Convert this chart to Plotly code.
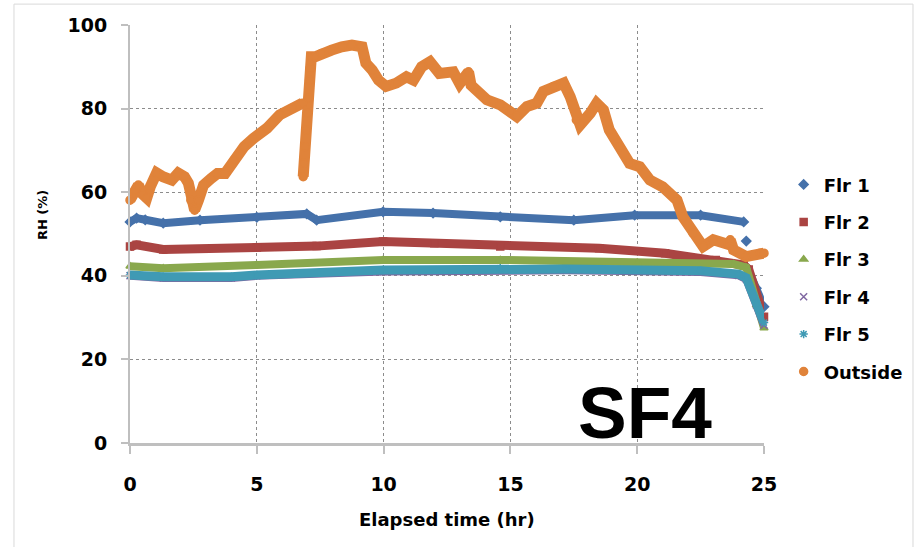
import plotly.graph_objects as go

# ---- data: relative humidity (%) versus elapsed time (hr) ----
t_flr1 = [0.0, 0.26, 0.6, 1.31, 2.76, 5.0, 6.97, 7.36, 9.98, 11.95, 14.6, 17.5, 19.9, 22.5, 24.2, None, 24.3, None, 24.35, 24.7, 25.0]
rh_flr1 = [52.9, 53.8, 53.4, 52.6, 53.3, 54.0, 54.8, 53.3, 55.3, 55.0, 54.1, 53.3, 54.5, 54.5, 52.9, None, 48.3, None, 41.8, 37.0, 32.6]

t_flr2 = [0.0, 0.26, 1.31, 5.0, 7.36, 9.98, 12.0, 14.6, 18.5, 21.1, 23.1, 24.2, 24.4, 24.7, 25.0]
rh_flr2 = [47.0, 47.4, 46.3, 46.8, 47.1, 48.2, 47.8, 47.0, 46.6, 45.4, 43.8, 42.6, 41.5, 35.0, 30.2]

t_flr3 = [0.0, 1.31, 5.0, 9.98, 14.6, 20.0, 23.8, 24.3, 24.7, 25.0]
rh_flr3 = [42.3, 41.8, 42.6, 43.8, 43.8, 43.2, 42.8, 42.0, 33.0, 27.5]

t_flr4 = [0.0, 1.31, 4.0, 5.0, 9.98, 14.6, 17.2, 22.5, 24.0, 24.3, 24.7, 25.0]
rh_flr4 = [40.0, 39.5, 39.5, 40.0, 41.0, 41.4, 41.3, 40.9, 40.1, 39.2, 33.0, 28.2]

t_flr5 = [0.0, 1.31, 4.0, 5.0, 9.98, 14.6, 17.2, 22.5, 24.0, 24.3, 24.7, 25.0]
rh_flr5 = [40.2, 39.8, 39.8, 40.2, 41.4, 41.8, 41.6, 41.2, 40.4, 39.5, 33.5, 28.8]

t_out = [0.0, 0.2, 0.33, 0.5, 0.66, 0.8, 1.05, 1.3, 1.65, 1.9, 2.15, 2.3, 2.4, 2.55, 2.7,
         2.9, 3.2, 3.45, 3.75, 4.1, 4.5, 4.87, 5.4, 5.9, 6.4, 6.8, None,
         6.83, 6.86, 6.9, 6.95, 7.0, 7.05, 7.08, 7.1, 7.15, 7.3, 7.55, 7.95, 8.35, 8.75,
         9.15, 9.3, 9.55, 9.8, 10.1, 10.5, 10.9, 11.18, 11.5, 11.83, 12.2, 12.75, 13.0,
         13.35, 13.45, 13.8, 14.07, 14.6, 15.0, 15.25, 15.65, 16.04, 16.3, 16.7, 17.1,
         17.36, 17.6, 17.75, 18.15, 18.4, 18.67, 18.9, 19.3, 19.7, 20.1, 20.5, 21.0,
         21.57, 21.8, 22.2, 22.6, 23.0, 23.6, 23.67, 23.8, 24.3, 24.85, 25.0]
rh_out = [58.1, 60.5, 61.7, 59.5, 58.6, 61.3, 64.6, 63.7, 62.9, 64.6, 63.7, 62.2, 58.1, 55.7, 58.1,
          61.7, 63.3, 64.5, 64.5, 67.7, 70.9, 72.9, 75.3, 78.5, 80.1, 81.3, None,
          63.7, 66.9, 70.9, 74.9, 78.9, 82.5, 86.8, 89.6, 92.4, 92.4, 93.2, 94.0, 94.8, 95.2,
          94.8, 90.9, 89.2, 86.8, 85.3, 86.1, 87.6, 86.8, 90.0, 91.2, 88.4, 88.8, 86.0,
          88.8, 85.6, 83.6, 82.1, 80.9, 79.3, 78.1, 80.5, 81.3, 84.1, 85.3, 86.1,
          82.8, 77.3, 76.1, 78.9, 81.3, 79.7, 74.9, 70.9, 66.9, 66.1, 62.9, 61.3,
          58.1, 54.1, 50.2, 47.0, 48.6, 47.5, 48.6, 46.2, 44.6, 45.4, 45.4]

series_names = ["Flr 1", "Flr 2", "Flr 3", "Flr 4", "Flr 5", "Outside"]
x_ticks = [0, 5, 10, 15, 20, 25]
y_ticks = [0, 20, 40, 60, 80, 100]

# ---- styling ----
styles = [
    dict(color="#4571AA", symbol="diamond", width=8, size=7),
    dict(color="#AA4442", symbol="square", width=9, size=7),
    dict(color="#89A84D", symbol="triangle-up", width=8, size=7),
    dict(color="#7F67A1", symbol="x-thin", width=8, size=7),
    dict(color="#3F9AB4", symbol="asterisk-open", width=9, size=7),
    dict(color="#E0833A", symbol="circle", width=11, size=8),
]

xs = [t_flr1, t_flr2, t_flr3, t_flr4, t_flr5, t_out]
ys = [rh_flr1, rh_flr2, rh_flr3, rh_flr4, rh_flr5, rh_out]

BOLD = dict(family="DejaVu Sans", weight="bold", color="#000000")

fig = go.Figure()
for name, x, y, st in zip(series_names, xs, ys, styles):
    # thick band through the readings
    fig.add_trace(go.Scatter(
        x=x, y=y, mode="lines", showlegend=False, hoverinfo="skip",
        line=dict(color=st["color"], width=st["width"]),
        connectgaps=False, cliponaxis=False,
    ))
    # markers at the readings (also the legend entry)
    fig.add_trace(go.Scatter(
        x=x, y=y, mode="markers", name=name, legendgroup=name,
        marker=dict(color=st["color"], symbol=st["symbol"], size=st["size"],
                    line=dict(color=st["color"], width=1.5)),
        cliponaxis=False,
    ))

grid = dict(showgrid=True, gridcolor="#8C8C8C", griddash="dot", gridwidth=1)

fig.update_layout(
    width=918, height=547,
    margin=dict(l=130, r=154, t=25, b=104, autoexpand=False),
    paper_bgcolor="white", plot_bgcolor="white",
    xaxis=dict(range=[0, 25], tickvals=x_ticks, ticktext=[str(v) for v in x_ticks],
               showline=True, linecolor="#BFBFBF", linewidth=3,
               ticks="outside", ticklen=8, tickcolor="#BFBFBF", tickwidth=1.5,
               zeroline=False, tickfont=dict(size=19, **BOLD),
               ticklabelstandoff=14, **grid),
    yaxis=dict(range=[0, 100], tickvals=y_ticks, ticktext=[str(v) for v in y_ticks],
               showline=True, linecolor="#BFBFBF", linewidth=2,
               ticks="outside", ticklen=7, tickcolor="#BFBFBF", tickwidth=1.5,
               zeroline=False, tickfont=dict(size=19, **BOLD),
               ticklabelstandoff=10, **grid),
    legend=dict(x=1.031, y=0.662, xanchor="left", yanchor="top",
                font=dict(size=18, **BOLD), traceorder="grouped",
                tracegroupgap=11, bgcolor="rgba(0,0,0,0)"),
    showlegend=True,
)

fig.add_annotation(text="Elapsed time (hr)", xref="paper", yref="paper",
                   x=0.5, y=-0.184, xanchor="center", yanchor="middle",
                   showarrow=False, font=dict(size=18, **BOLD))
fig.add_annotation(text="RH (%)", xref="paper", yref="paper",
                   x=-0.139, y=0.545, xanchor="center", yanchor="middle",
                   textangle=-90, showarrow=False, font=dict(size=13, **BOLD))
fig.add_annotation(text="SF4", xref="paper", yref="paper",
                   x=0.812, y=0.072, xanchor="center", yanchor="middle",
                   showarrow=False,
                   font=dict(family="Liberation Sans", weight="bold", size=73, color="#000000"))

# chart-area border
fig.add_shape(type="rect", xref="paper", yref="paper",
              x0=-0.183, x1=1.235, y0=-0.3, y1=1.050,
              line=dict(color="#D9D9D9", width=1), layer="below")

fig.write_html("out.html")
